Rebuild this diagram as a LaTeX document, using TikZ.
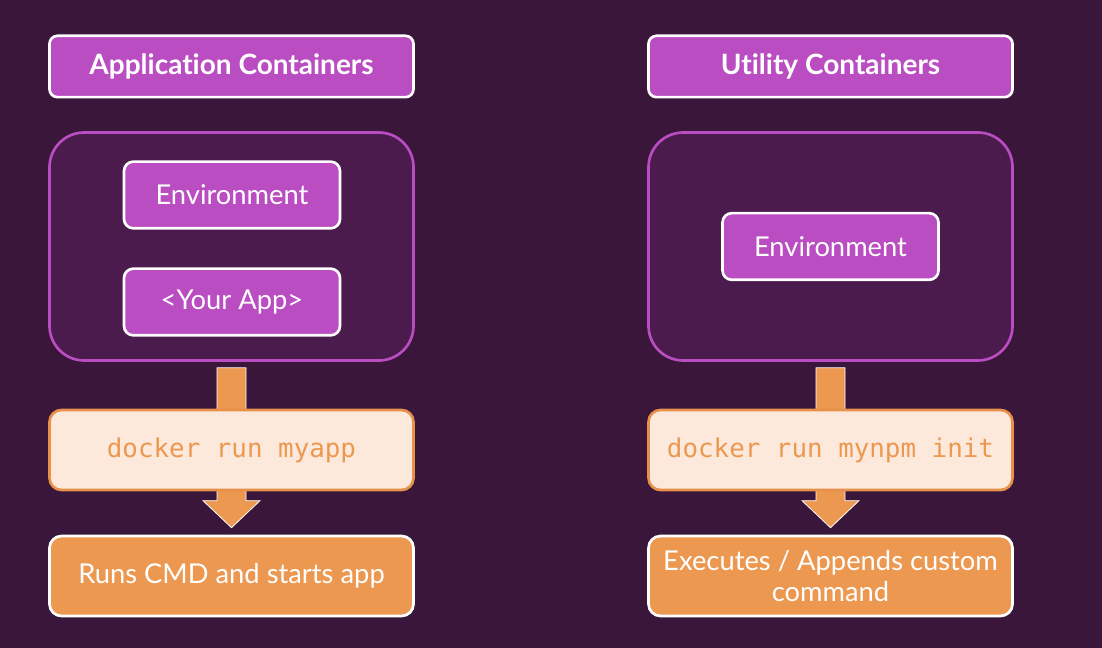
\documentclass[tikz,border=0pt]{standalone}
\usepackage{fontspec}
\setmainfont{Lato}[Ligatures={NoCommon,NoRare}]
\setmonofont{DejaVu Sans Mono}
\usetikzlibrary{calc}
\definecolor{bgc}{HTML}{3A163B}
\definecolor{panelc}{HTML}{4A1B4C}
\definecolor{purp}{HTML}{B94DC1}
\definecolor{cmdfill}{HTML}{FCE9DC}
\definecolor{orng}{HTML}{EC9850}
\definecolor{orngline}{HTML}{E8914B}
\tikzset{
  titlebox/.style={draw=white, line width=2pt, fill=purp, rounded corners=6pt, minimum width=273pt, minimum height=46pt, text=white, font=\fontsize{21}{24}\selectfont\bfseries, inner sep=0pt},
  panel/.style={draw=purp, line width=2pt, fill=panelc, rounded corners=26pt, minimum width=273pt, minimum height=171pt, inner sep=0pt},
  envbox/.style={draw=white, line width=2pt, fill=purp, rounded corners=7pt, minimum width=162pt, minimum height=50pt, text=white, font=\fontsize{20.5}{24}\selectfont, inner sep=0pt},
  cmdbox/.style={draw=orngline, line width=2pt, fill=cmdfill, rounded corners=9pt, minimum width=273pt, minimum height=60pt, text=orng, font=\ttfamily\fontsize{19.4}{22}\selectfont, inner sep=0pt},
  resbox/.style={draw=white, line width=2pt, fill=orng, rounded corners=9pt, minimum width=273pt, minimum height=60pt, text=white, font=\fontsize{20.5}{23.5}\selectfont, inner sep=0pt, align=center},
  bigarrow/.style={fill=orng, draw=white, line width=0.6pt, line join=miter}
}
\begin{document}
\begin{tikzpicture}[x=0.75pt,y=-0.75pt]
\fill[bgc] (0,0) rectangle (1102,648);
\useasboundingbox (0,0) rectangle (1102,648);
% left column
\node[titlebox] (titleL) at (231.5,66.5) {Application Containers};
\node[panel] (panelL) at (231.5,246.5) {};
\node[envbox] (envL) at (232,195) {Environment};
\node[envbox] (appL) at (232,302) {<Your App>};
\node[resbox] (resL) at (231.5,576) {Runs CMD and starts app};
\draw[bigarrow] ($(panelL.south)+(-14.5,6)$) -- ($(resL.north)+(-14.5,-34)$) -- ($(resL.north)+(-28.5,-34)$) -- ($(resL.north)+(0,-7)$) -- ($(resL.north)+(28.5,-34)$) -- ($(resL.north)+(14.5,-34)$) -- ($(panelL.south)+(14.5,6)$) -- cycle;
\node[cmdbox] (cmdL) at (231.5,450) {docker run myapp};
% right column
\node[titlebox] (titleR) at (830.5,66.5) {Utility Containers};
\node[panel] (panelR) at (830.5,246.5) {};
\node[envbox] (envR) at (830.5,246.5) {Environment};
\node[resbox] (resR) at (830.5,576) {Executes / Appends custom\\command};
\draw[bigarrow] ($(panelR.south)+(-14.5,6)$) -- ($(resR.north)+(-14.5,-34)$) -- ($(resR.north)+(-28.5,-34)$) -- ($(resR.north)+(0,-7)$) -- ($(resR.north)+(28.5,-34)$) -- ($(resR.north)+(14.5,-34)$) -- ($(panelR.south)+(14.5,6)$) -- cycle;
\node[cmdbox] (cmdR) at (830.5,450) {docker run mynpm init};
\end{tikzpicture}
\end{document}
